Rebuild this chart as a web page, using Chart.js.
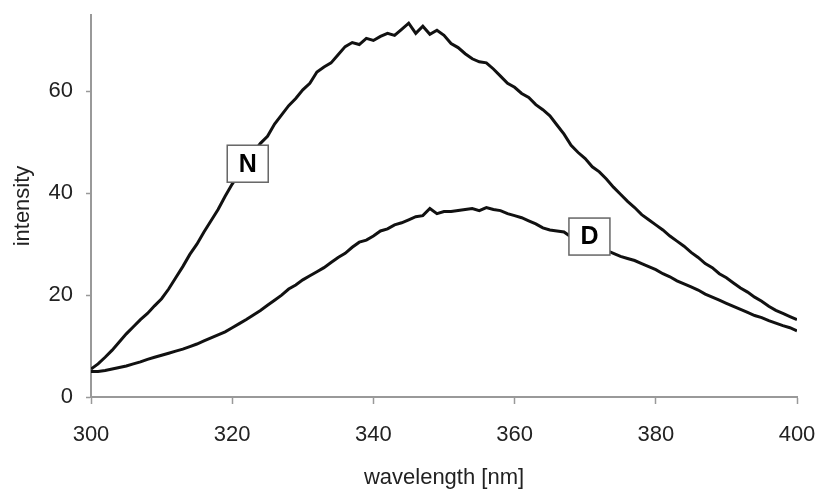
<!DOCTYPE html>
<html>
<head>
<meta charset="utf-8">
<script src="https://cdn.jsdelivr.net/npm/chart.js@4.4.1/dist/chart.umd.min.js"></script>
<style>
html,body{margin:0;padding:0;background:#fff;}
#wrap{width:820px;height:491px;position:relative;}
</style>
</head>
<body>
<div id="wrap"><canvas id="c" width="820" height="491"></canvas></div>
<script>
const wavelengths = [300,301,302,303,304,305,306,307,308,309,310,311,312,313,314,315,316,317,318,319,320,321,322,323,324,325,326,327,328,329,330,331,332,333,334,335,336,337,338,339,340,341,342,343,344,345,346,347,348,349,350,351,352,353,354,355,356,357,358,359,360,361,362,363,364,365,366,367,368,369,370,371,372,373,374,375,376,377,378,379,380,381,382,383,384,385,386,387,388,389,390,391,392,393,394,395,396,397,398,399,400];
const seriesN = [5.5,6.5,7.8,9.2,10.8,12.4,13.8,15.2,16.4,17.9,19.3,21.2,23.4,25.6,28.0,30.0,32.4,34.6,36.8,39.4,41.8,44.0,46.0,48.0,49.8,51.2,53.6,55.4,57.2,58.6,60.3,61.6,63.8,64.8,65.6,67.2,68.8,69.6,69.2,70.4,70.0,70.8,71.4,71.0,72.2,73.4,71.4,72.8,71.2,72.0,71.0,69.4,68.6,67.4,66.4,65.8,65.6,64.4,63.0,61.6,60.8,59.6,58.8,57.4,56.4,55.2,53.4,51.6,49.4,48.0,46.8,45.2,44.2,42.8,41.2,39.8,38.4,37.2,35.8,34.8,33.8,32.8,31.6,30.6,29.6,28.4,27.4,26.2,25.4,24.2,23.4,22.4,21.4,20.6,19.6,18.8,17.8,17.0,16.4,15.8,15.2];
const seriesD = [5.0,5.0,5.2,5.5,5.8,6.1,6.5,6.9,7.4,7.8,8.2,8.6,9.0,9.4,9.9,10.4,11.0,11.6,12.2,12.8,13.6,14.4,15.2,16.1,17.0,18.0,19.0,20.0,21.2,22.0,23.0,23.8,24.6,25.4,26.4,27.4,28.2,29.4,30.4,30.8,31.6,32.6,33.0,33.8,34.2,34.8,35.4,35.6,37.0,36.0,36.4,36.4,36.6,36.8,37.0,36.6,37.2,36.8,36.6,36.0,35.6,35.2,34.6,34.0,33.2,32.8,32.6,32.4,31.4,30.6,30.0,29.6,29.2,28.8,28.2,27.6,27.2,26.8,26.2,25.6,25.0,24.2,23.6,22.8,22.2,21.6,21.0,20.2,19.6,19.0,18.4,17.8,17.2,16.6,16.0,15.6,15.0,14.5,14.0,13.6,13.0];
const xTicks = [300,320,340,360,380,400];
const yTicks = [0,20,40,60];
const labelTexts = ['N','D'];
const labelX = [322.2,370.6];
const labelY = [45.8,31.5];

const toPts = (ys) => wavelengths.map((w,i)=>({x:w,y:ys[i]}));

const boxLabels = {
  id:'boxLabels',
  afterDatasetsDraw(chart){
    const ctx = chart.ctx, xs = chart.scales.x, ys = chart.scales.y;
    ctx.save();
    labelTexts.forEach((t,i)=>{
      const cx = xs.getPixelForValue(labelX[i]);
      const cy = ys.getPixelForValue(labelY[i]);
      const w = 41, h = 37;
      ctx.fillStyle = '#fff';
      ctx.fillRect(cx-w/2, cy-h/2, w, h);
      ctx.strokeStyle = '#666';
      ctx.lineWidth = 1.5;
      ctx.strokeRect(cx-w/2, cy-h/2, w, h);
      ctx.fillStyle = '#000';
      ctx.font = 'bold 25px "Liberation Sans", Arial, sans-serif';
      ctx.textAlign = 'center';
      ctx.textBaseline = 'middle';
      ctx.fillText(t, cx, cy+1);
    });
    ctx.restore();
  }
};

const fontTick = {family:'"Liberation Sans", Arial, sans-serif', size:22};
new Chart(document.getElementById('c'), {
  type:'line',
  data:{datasets:[
    {label:'N', data:toPts(seriesN), borderColor:'#111', borderWidth:3, pointRadius:0, tension:0, fill:false},
    {label:'D', data:toPts(seriesD), borderColor:'#111', borderWidth:3, pointRadius:0, tension:0, fill:false}
  ]},
  options:{
    responsive:false, animation:false, devicePixelRatio:1,
    layout:{padding:{left:0,right:23,top:15,bottom:0}},
    plugins:{legend:{display:false}, tooltip:{enabled:false}},
    scales:{
      x:{type:'linear', min:300, max:400,
        afterBuildTicks(s){ s.ticks = xTicks.map(v=>({value:v})); },
        afterFit(s){ s.height = 94; s.paddingLeft = 0; s.paddingRight = 0; },
        ticks:{color:'#222', font:fontTick, padding:18, maxRotation:0},
        grid:{display:true, drawOnChartArea:false, drawTicks:true, tickLength:7, tickColor:'#999', tickWidth:1.5},
        border:{display:true, color:'#999', width:2},
        title:{display:true, text:'wavelength [nm]', color:'#222', font:{family:'"Liberation Sans", Arial, sans-serif', size:22}, padding:{top:0,bottom:0}}
      },
      y:{type:'linear', min:0, max:75,
        afterBuildTicks(s){ s.ticks = yTicks.map(v=>({value:v})); },
        afterFit(s){ s.width = 91; s.paddingTop = 0; s.paddingBottom = 0; },
        ticks:{color:'#222', font:fontTick, padding:13},
        grid:{display:true, drawOnChartArea:false, drawTicks:true, tickLength:5, tickColor:'#999', tickWidth:1.5},
        border:{display:true, color:'#999', width:2},
        title:{display:true, text:'intensity', color:'#222', font:{family:'"Liberation Sans", Arial, sans-serif', size:22}, padding:{top:10,bottom:0}}
      }
    }
  },
  plugins:[boxLabels]
});
</script>
</body>
</html>
